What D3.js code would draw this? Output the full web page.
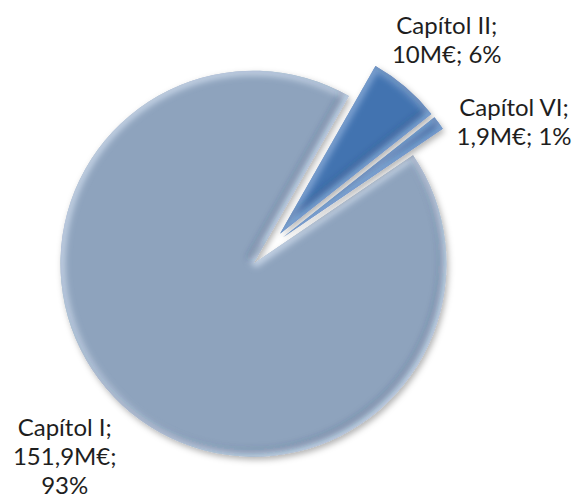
<!DOCTYPE html>
<html>
<head>
<meta charset="utf-8">
<script src="https://cdn.jsdelivr.net/npm/d3@7"></script>
<style>
  body { margin: 0; background: #fff; }
  svg { display: block; }
  .lbl { font-family: Lato, "Open Sans", sans-serif; font-size: 24px; fill: #1e1e1e; }
</style>
</head>
<body>
<script>
// data (milions d'euros)
var categories = ["Capítol I", "Capítol II", "Capítol VI"];
var values = [151.9, 10, 1.9];
// how each data label wraps (number of text pieces per line)
var labelWrap = [[1, 1, 1], [1, 2], [1, 2]];

var width = 576, height = 504;
var cx = 267, cy = 249;
var radius = 193;
var explode = 20;
var startDeg = 55.8;

// label placement: angle offset from the slice bisector (deg) and distance
var labelAngle = [1.5, 0, 9];
var labelDist = [290, 276, 278];

var colors = ["#8ea3bd", "#4373b0", "#4373b0"];
var glow = ["#d3e0f0", "#8fb0dc", "#8fb0dc"];

var loc = d3.formatLocale({decimal: ",", thousands: ".", grouping: [3], currency: ["", "€"]});
var fmt = function(v) { return loc.format("~f")(Math.round(v * 10) / 10); };
var total = d3.sum(values);

var data = categories.map(function(c, i) { return {label: c, value: values[i], i: i}; });

var svg = d3.select("body").append("svg")
    .attr("width", width)
    .attr("height", height);

var defs = svg.append("defs");

var sh = defs.append("filter").attr("id", "shadow")
    .attr("x", "-20%").attr("y", "-20%").attr("width", "140%").attr("height", "140%");
sh.append("feDropShadow")
    .attr("dx", 2).attr("dy", 3).attr("stdDeviation", 3)
    .attr("flood-color", "#000").attr("flood-opacity", 0.3);

var bl = defs.append("filter").attr("id", "blur")
    .attr("x", "-20%").attr("y", "-20%").attr("width", "140%").attr("height", "140%");
bl.append("feGaussianBlur").attr("stdDeviation", 3);

var pie = d3.pie()
    .sort(null)
    .value(function(d) { return d.value; })
    .startAngle(startDeg * Math.PI / 180)
    .endAngle(startDeg * Math.PI / 180 + 2 * Math.PI);

var arc = d3.arc().innerRadius(0).outerRadius(radius);
var arcs = pie(data);

function mid(d) { return (d.startAngle + d.endAngle) / 2; }

var g = svg.append("g").attr("transform", "translate(" + cx + "," + cy + ")");

var slice = g.selectAll(".slice")
    .data(arcs)
    .enter().append("g")
    .attr("class", "slice")
    .attr("transform", function(d) {
        var a = mid(d);
        return "translate(" + (Math.sin(a) * explode) + "," + (-Math.cos(a) * explode) + ")";
    });

slice.each(function(d) {
    defs.append("clipPath").attr("id", "clip" + d.data.i)
        .append("path").attr("d", arc(d));
});

slice.append("path")
    .attr("d", arc)
    .attr("fill", function(d) { return colors[d.data.i]; })
    .attr("filter", "url(#shadow)");

// soft bevel: blurred light rim inside the slice
slice.append("g")
    .attr("clip-path", function(d) { return "url(#clip" + d.data.i + ")"; })
  .append("path")
    .attr("d", arc)
    .attr("fill", "none")
    .attr("stroke", function(d) { return glow[d.data.i]; })
    .attr("stroke-width", 9)
    .attr("stroke-opacity", 0.8)
    .attr("filter", "url(#blur)");

// darker rim on the lower right
slice.append("g")
    .attr("clip-path", function(d) { return "url(#clip" + d.data.i + ")"; })
  .append("path")
    .attr("d", arc)
    .attr("transform", "translate(-5,-5)")
    .attr("fill", "none")
    .attr("stroke", "#1d3557")
    .attr("stroke-width", 6)
    .attr("stroke-opacity", 0.2)
    .attr("filter", "url(#blur)");

// data labels
var lh = 29, capH = 17;
arcs.forEach(function(d) {
    var i = d.data.i;
    var pct = Math.round(d.data.value / total * 100) + "%";
    var pieces = [d.data.label + ";", fmt(d.data.value) + "M€;", pct];
    var lines = [];
    var k = 0;
    labelWrap[i].forEach(function(n) {
        lines.push(pieces.slice(k, k + n).join(" "));
        k += n;
    });
    var a = mid(d) + labelAngle[i] * Math.PI / 180;
    var x = Math.sin(a) * labelDist[i];
    var y = -Math.cos(a) * labelDist[i];
    var y0 = y - (lines.length - 1) * lh / 2 + capH / 2;
    var t = g.append("text")
        .attr("class", "lbl")
        .attr("text-anchor", "middle");
    lines.forEach(function(s, j) {
        t.append("tspan").attr("x", x).attr("y", y0 + j * lh).text(s);
    });
});
</script>
</body>
</html>
